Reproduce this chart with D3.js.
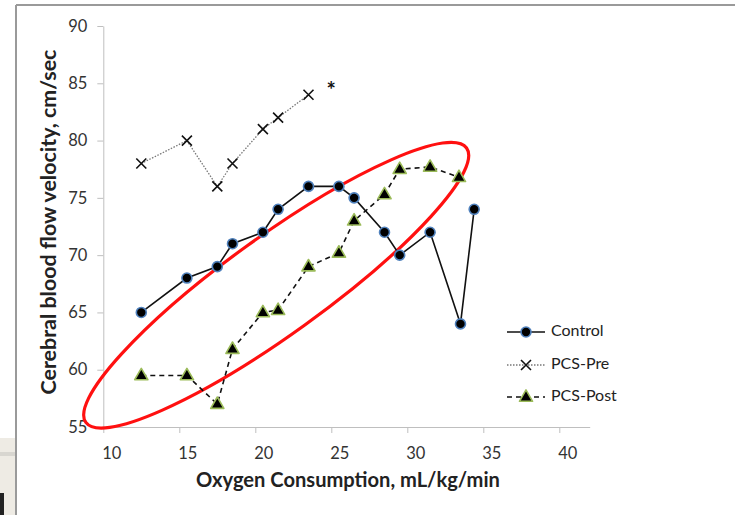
<!DOCTYPE html>
<html>
<head>
<meta charset="utf-8">
<script src="https://cdn.jsdelivr.net/npm/d3@7"></script>
<style>
  html, body { margin: 0; padding: 0; background: #fff; }
  svg { display: block; }
  text { font-family: Lato, "Open Sans", sans-serif; }
</style>
</head>
<body>
<svg id="chart" width="735" height="515"></svg>
<script>
// Oxygen consumption (mL/kg/min) vs cerebral blood flow velocity (cm/sec)
const controlX  = [12.5, 15.5, 17.5, 18.5, 20.5, 21.5, 23.5, 25.5, 26.5, 28.5, 29.5, 31.5, 33.5, 34.4];
const controlY  = [65, 68, 69, 71, 72, 74, 76, 76, 75, 72, 70, 72, 64, 74];
const pcsPreX   = [12.5, 15.5, 17.5, 18.5, 20.5, 21.5, 23.5];
const pcsPreY   = [78, 80, 76, 78, 81, 82, 84];
const pcsPostX  = [12.5, 15.5, 17.5, 18.5, 20.5, 21.5, 23.5, 25.5, 26.5, 28.5, 29.5, 31.5, 33.4];
const pcsPostY  = [59.5, 59.5, 57, 61.8, 65, 65.2, 69, 70.2, 73, 75.3, 77.5, 77.7, 76.8];
const xTicks = [10, 15, 20, 25, 30, 35, 40];
const yTicks = [55, 60, 65, 70, 75, 80, 85, 90];
const seriesNames = ["Control", "PCS-Pre", "PCS-Post"];
// Significance mark and highlighted region (data units)
const starPoint = [25.0, 85.0];
const ellipseEnds = [[8.85, 55.4], [33.9, 79.35]];

const svg = d3.select("#chart");

// Page frame
svg.append("rect").attr("x", 0).attr("y", 438).attr("width", 15).attr("height", 77).attr("fill", "#eeebe4");
svg.append("rect").attr("x", 0).attr("y", 452).attr("width", 15).attr("height", 4).attr("fill", "#d8d6d0");
svg.append("rect").attr("x", 0).attr("y", 493).attr("width", 4).attr("height", 22).attr("fill", "#222");
svg.append("line").attr("x1", 16).attr("x2", 735).attr("y1", 5).attr("y2", 5).attr("stroke", "#9a9a9a").attr("stroke-width", 2);
svg.append("line").attr("x1", 16).attr("x2", 16).attr("y1", 5).attr("y2", 515).attr("stroke", "#9a9a9a").attr("stroke-width", 2);

const x = d3.scaleLinear().domain([10, 42]).range([103.3, 589.7]);
const y = d3.scaleLinear().domain([55, 90]).range([427, 26]);

const axisColor = "#bfbfbf";
const labelColor = "#333";

// Y axis
const gy = svg.append("g").attr("transform", `translate(${x(10)},0)`)
  .call(d3.axisLeft(y).tickValues(yTicks).tickSize(6).tickSizeOuter(0).tickPadding(10));
gy.select(".domain").attr("stroke", axisColor);
gy.selectAll(".tick line").attr("stroke", axisColor);
gy.selectAll(".tick text").attr("fill", labelColor).style("font-size", "16.5px").style("font-family", "Lato, sans-serif");

// X axis
const gx = svg.append("g").attr("transform", `translate(0,${y(55)})`)
  .call(d3.axisBottom(x).tickValues(xTicks).tickSize(6).tickSizeOuter(0).tickPadding(14));
gx.select(".domain").attr("stroke", axisColor);
gx.selectAll(".tick line").attr("stroke", axisColor);
gx.selectAll(".tick text").attr("fill", labelColor).attr("dx", 8).style("font-size", "16.5px").style("font-family", "Lato, sans-serif");

// Fit a text element to a given width by adjusting its font size
function fitWidth(sel, w) {
  const node = sel.node();
  const fs = parseFloat(sel.style("font-size"));
  const len = node.getComputedTextLength();
  sel.style("font-size", (fs * w / len) + "px");
}

// Axis titles
const xt = svg.append("text").attr("x", 348).attr("y", 482)
  .attr("text-anchor", "middle").attr("dominant-baseline", "middle")
  .attr("fill", "#222").style("font-weight", "bold").style("font-size", "17px")
  .text("Oxygen Consumption, mL/kg/min");
fitWidth(xt, 304);

const yt = svg.append("text").attr("transform", "translate(51,222) rotate(-90)")
  .attr("text-anchor", "middle").attr("dominant-baseline", "middle")
  .attr("fill", "#222").style("font-weight", "bold").style("font-size", "17px")
  .text("Cerebral blood flow velocity, cm/sec");
fitWidth(yt, 345);

// Highlight ellipse
{
  const p0 = [x(ellipseEnds[0][0]), y(ellipseEnds[0][1])];
  const p1 = [x(ellipseEnds[1][0]), y(ellipseEnds[1][1])];
  const cx = (p0[0] + p1[0]) / 2, cy = (p0[1] + p1[1]) / 2;
  const rx = Math.hypot(p1[0] - p0[0], p1[1] - p0[1]) / 2;
  const ang = Math.atan2(p1[1] - p0[1], p1[0] - p0[0]) * 180 / Math.PI;
  svg.append("ellipse")
    .attr("transform", `translate(${cx},${cy}) rotate(${ang})`)
    .attr("rx", rx).attr("ry", 49)
    .attr("fill", "none").attr("stroke", "#ff1010").attr("stroke-width", 3.2);
}

const line = d3.line().x(d => x(d[0])).y(d => y(d[1]));
const control = controlX.map((v, i) => [v, controlY[i]]);
const pre = pcsPreX.map((v, i) => [v, pcsPreY[i]]);
const post = pcsPostX.map((v, i) => [v, pcsPostY[i]]);

// Series styles
const styles = {
  "Control":  { stroke: "#111", width: 1.6, dash: null },
  "PCS-Pre":  { stroke: "#777", width: 1.3, dash: "1.5,1.5" },
  "PCS-Post": { stroke: "#111", width: 1.6, dash: "5,4" }
};

function drawLine(data, name) {
  const s = styles[name];
  svg.append("path").datum(data).attr("d", line)
    .attr("fill", "none").attr("stroke", s.stroke).attr("stroke-width", s.width)
    .attr("stroke-dasharray", s.dash);
}

const triangle = d3.symbol().type(d3.symbolTriangle).size(75);

function circleMarker(g, px, py) {
  g.append("circle").attr("cx", px).attr("cy", py).attr("r", 5)
    .attr("fill", "#000").attr("stroke", "#4f81bd").attr("stroke-width", 1.6);
}
function crossMarker(g, px, py) {
  g.append("path").attr("d", `M${px - 5},${py - 5}L${px + 5},${py + 5}M${px - 5},${py + 5}L${px + 5},${py - 5}`)
    .attr("stroke", "#111").attr("stroke-width", 1.6).attr("fill", "none");
}
function triMarker(g, px, py) {
  g.append("path").attr("d", triangle).attr("transform", `translate(${px},${py + 0.5})`)
    .attr("fill", "#000").attr("stroke", "#9bbb59").attr("stroke-width", 1.6).attr("stroke-linejoin", "round");
}

drawLine(pre, "PCS-Pre");
drawLine(post, "PCS-Post");
drawLine(control, "Control");

const gm = svg.append("g");
pre.forEach(d => crossMarker(gm, x(d[0]), y(d[1])));
post.forEach(d => triMarker(gm, x(d[0]), y(d[1])));
control.forEach(d => circleMarker(gm, x(d[0]), y(d[1])));

// Significance asterisk
svg.append("text").attr("x", x(starPoint[0])).attr("y", y(starPoint[1]))
  .attr("dy", "0.68em").attr("text-anchor", "middle")
  .attr("fill", "#111").style("font-weight", "bold").style("font-size", "22px")
  .text("*");

// Legend
const markers = { "Control": circleMarker, "PCS-Pre": crossMarker, "PCS-Post": triMarker };
const legendY = [332, 365, 397];
seriesNames.forEach((name, i) => {
  const g = svg.append("g");
  const s = styles[name];
  const ly = legendY[i];
  g.append("line").attr("x1", 507).attr("x2", 545).attr("y1", ly).attr("y2", ly)
    .attr("stroke", s.stroke).attr("stroke-width", s.width).attr("stroke-dasharray", s.dash);
  markers[name](g, 526, ly);
  g.append("text").attr("x", 551).attr("y", ly).attr("dominant-baseline", "middle")
    .attr("fill", "#222").style("font-size", "16px").text(name);
});
</script>
</body>
</html>
